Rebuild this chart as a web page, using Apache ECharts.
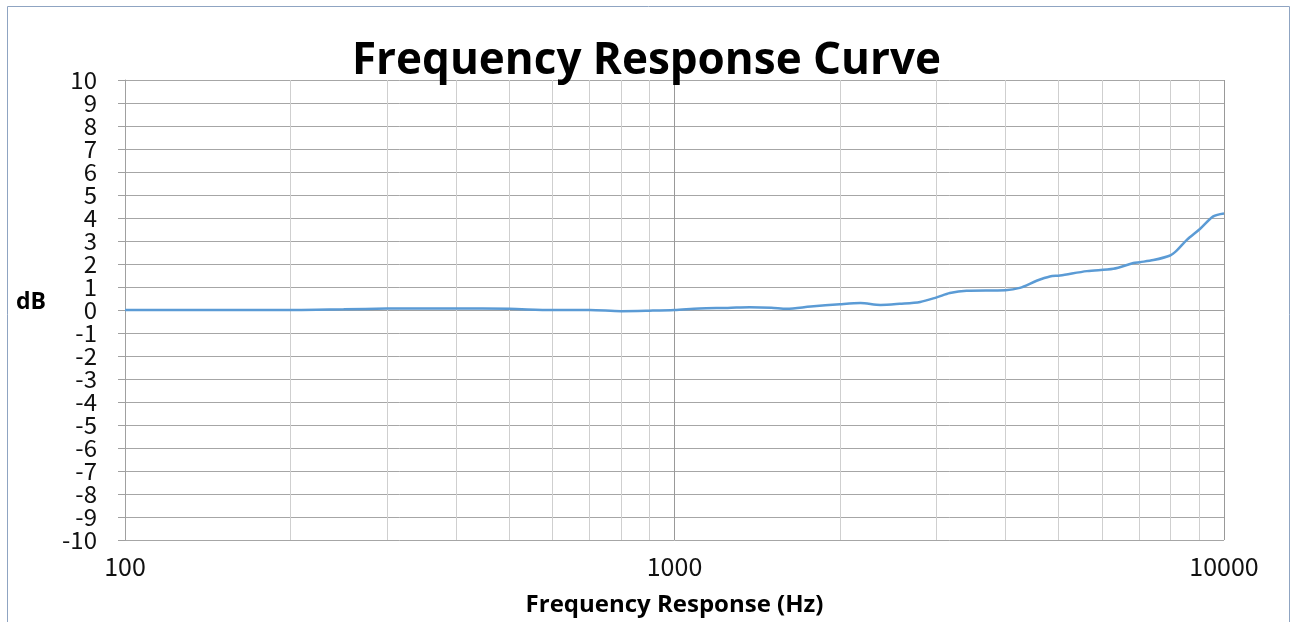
<!DOCTYPE html>
<html>
<head>
<meta charset="utf-8">
<style>html,body{margin:0;padding:0;background:#fff;}#c{width:1293px;height:622px;}</style>
<script src="https://cdn.jsdelivr.net/npm/echarts@6/dist/echarts.min.js"></script>
</head>
<body>
<div id="c"></div>
<script>
var frequencies = [100, 150, 200, 250, 300, 400, 500, 600, 700, 800, 900, 1000, 1110, 1250, 1370, 1500, 1600, 1770, 2000, 2180, 2370, 2570, 2800, 3000, 3170, 3400, 4000, 4250, 4560, 4820, 5030, 5630, 6290, 6840, 7030, 7440, 7980, 8200, 8550, 9040, 9560, 10000];
var dbValues = [0, 0, 0, 0.03, 0.06, 0.07, 0.05, 0, 0, -0.05, -0.03, 0, 0.07, 0.09, 0.12, 0.1, 0.05, 0.15, 0.25, 0.3, 0.22, 0.27, 0.35, 0.55, 0.74, 0.84, 0.86, 0.96, 1.27, 1.46, 1.5, 1.69, 1.79, 2.04, 2.08, 2.17, 2.37, 2.58, 3.04, 3.52, 4.07, 4.2];
var minorGridFreqs = [200, 300, 400, 500, 600, 700, 800, 900, 2000, 3000, 4000, 5000, 6000, 7000, 8000, 9000];
var yMin = -10, yMax = 10;
var titleText = 'Frequency Response Curve';
var xName = 'Frequency Response (Hz)';
var yName = 'dB';

var chart = echarts.init(document.getElementById('c'));
var lineData = frequencies.map(function (f, i) { return [f, dbValues[i]]; });
var labelFont = '"Noto Sans CJK SC", "Noto Sans", sans-serif';
var boldFont = '"Open Sans", "Noto Sans", sans-serif';
var yLabelStyle = { margin: 28, fontFamily: labelFont, fontSize: 24, color: '#111', hideOverlap: false };
function isEnd(v) { return v === yMin || v === yMax; }
chart.setOption({
  animation: false,
  title: {
    text: titleText, left: 'center', top: 34, z: 10,
    textStyle: { fontFamily: boldFont, fontWeight: 'bold', fontSize: 44, color: '#000' }
  },
  graphic: [
    { type: 'rect', shape: { x: 7.5, y: 6.5, width: 1282, height: 630 }, style: { fill: 'none', stroke: '#8fa4c2', lineWidth: 1 }, z: -1 },
    { type: 'text', left: 16, top: 291, style: { text: yName, fontFamily: boldFont, fontWeight: 'bold', fontSize: 23, fill: '#000' } }
  ],
  grid: { left: 125, right: 69, top: 80, bottom: 79 },
  xAxis: {
    type: 'log', logBase: 10, min: 100, max: 10000,
    name: xName, nameLocation: 'middle', nameGap: 53,
    nameTextStyle: { fontFamily: boldFont, fontWeight: 'bold', fontSize: 24, color: '#000' },
    axisLine: { show: true, lineStyle: { color: '#a0a0a0', width: 1 } },
    axisTick: { show: true, length: 7, lineStyle: { color: '#a0a0a0' } },
    axisLabel: { margin: 14, fontFamily: labelFont, fontSize: 25, color: '#111',
      formatter: function (v) { return String(Math.round(v)); } },
    splitLine: { show: true, lineStyle: { color: '#999', width: 1 } }
  },
  yAxis: [{
    type: 'value', min: yMin, max: yMax, interval: 1,
    axisLine: { show: true, lineStyle: { color: '#a0a0a0', width: 1 } },
    axisTick: { show: true, length: 7, lineStyle: { color: '#a0a0a0' } },
    axisLabel: Object.assign({}, yLabelStyle, { formatter: function (v) { return isEnd(v) ? '' : String(v); } }),
    splitLine: { show: true, lineStyle: { color: '#a6a6a6', width: 1 } }
  }, {
    type: 'value', min: yMin, max: yMax, interval: 5, position: 'left', offset: 0,
    axisLine: { show: false }, axisTick: { show: false }, splitLine: { show: false },
    axisLabel: Object.assign({}, yLabelStyle, { formatter: function (v) { return isEnd(v) ? String(v) : ''; } })
  }],
  series: [{
    type: 'line', data: lineData, smooth: 0.3, showSymbol: false, symbol: 'none', yAxisIndex: 0,
    lineStyle: { color: '#5b9bd5', width: 2.5 }, z: 5,
    markLine: {
      silent: true, symbol: 'none', label: { show: false }, animation: false,
      lineStyle: { color: '#cfcfcf', type: 'solid', width: 1 },
      data: minorGridFreqs.map(function (f) { return { xAxis: f }; })
    }
  }]
});
</script>
</body>
</html>
